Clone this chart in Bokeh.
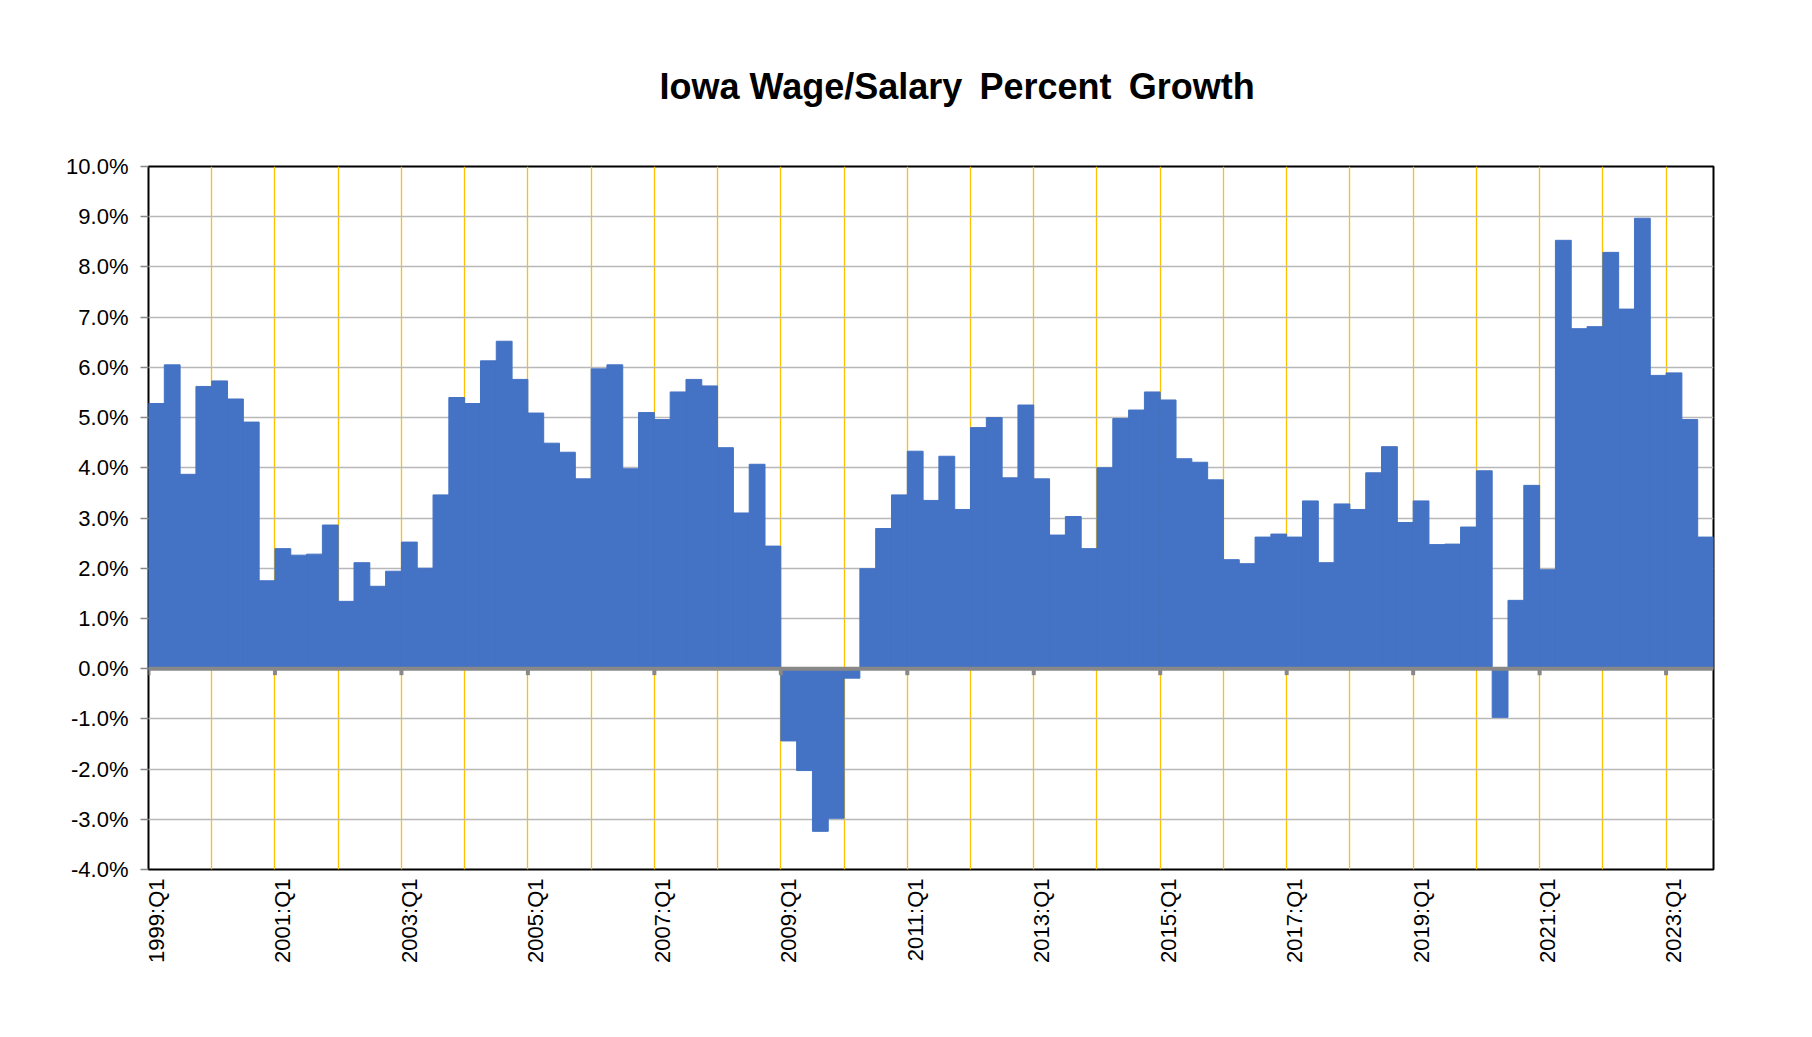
import math
from bokeh.plotting import figure
from bokeh.models import FixedTicker, Span
from bokeh.embed import file_html
from bokeh.resources import INLINE

# ---- data ----
years = list(range(1999, 2024))
quarters = [f"{y}:Q{q}" for y in years for q in range(1, 5)][:99]

growth = [
    5.28, 6.05, 3.87, 5.62,   # 1999
    5.73, 5.37, 4.91, 1.75,   # 2000
    2.39, 2.26, 2.28, 2.86,   # 2001
    1.34, 2.11, 1.64, 1.94,   # 2002
    2.52, 2.00, 3.46, 5.40,   # 2003
    5.28, 6.13, 6.52, 5.76,   # 2004
    5.09, 4.49, 4.31, 3.78,   # 2005
    5.97, 6.05, 3.98, 5.10,   # 2006
    4.96, 5.51, 5.76, 5.63,   # 2007
    4.40, 3.10, 4.07, 2.44,   # 2008
    -1.44, -2.03, -3.24, -2.98,  # 2009
    -0.19, 1.99, 2.79, 3.46,  # 2010
    4.33, 3.35, 4.23, 3.17,   # 2011
    4.80, 5.00, 3.80, 5.25,   # 2012
    3.78, 2.66, 3.03, 2.39,   # 2013
    4.00, 4.98, 5.15, 5.51,   # 2014
    5.35, 4.18, 4.11, 3.76,   # 2015
    2.17, 2.09, 2.62, 2.68,   # 2016
    2.62, 3.34, 2.11, 3.28,   # 2017
    3.17, 3.90, 4.42, 2.91,   # 2018
    3.34, 2.47, 2.48, 2.82,   # 2019
    3.94, -0.97, 1.36, 3.65,  # 2020
    1.97, 8.53, 6.77, 6.81,   # 2021
    8.29, 7.16, 8.97, 5.84,   # 2022
    5.89, 4.96, 2.62,         # 2023
]

y_ticks = list(range(-4, 11))
label_every = 8      # category labels every 2 years
year_every = 4       # yellow gridline every year

n = len(growth)
x_centers = [i + 0.5 for i in range(n)]
label_idx = list(range(0, n, label_every))

FONT = "Liberation Sans"
W, H = 1796, 1021

p = figure(
    frame_width=1565, frame_height=703,
    min_border_left=148, min_border_right=W - 148 - 1565,
    min_border_top=166, min_border_bottom=H - 166 - 703,
    x_range=(0, n), y_range=(y_ticks[0], y_ticks[-1]),
    output_backend="svg", toolbar_location=None,
    background_fill_color="white", border_fill_color="white",
)

p.title.text = "Iowa Wage/Salary \u2009Percent \u2009Growth"
p.title.text_font = FONT
p.title.text_font_size = "36px"
p.title.text_font_style = "bold"
p.title.text_color = "black"
p.title.align = "left"
p.title.offset = 511
p.title.standoff = 120

p.outline_line_color = "black"
p.outline_line_width = 2

# horizontal gridlines
p.ygrid.ticker = FixedTicker(ticks=y_ticks)
p.ygrid.grid_line_color = "#B8B8B8"
p.ygrid.grid_line_width = 1.5

# yellow vertical gridlines at year boundaries
p.xgrid.ticker = FixedTicker(ticks=list(range(year_every, n, year_every)))
p.xgrid.grid_line_color = "#FFC000"
p.xgrid.grid_line_width = 1.3

# bars
p.vbar(x=x_centers, top=growth, bottom=0, width=1.0,
       fill_color="#4472C4", line_color="#4472C4", line_width=1.0)

# zero axis line
p.add_layout(Span(location=0, dimension="width", line_color="#888888", line_width=4))
tick_x = list(range(0, n, label_every))
p.segment(x0=tick_x, x1=tick_x, y0=[0] * len(tick_x), y1=[-0.13] * len(tick_x),
          line_color="#888888", line_width=4)

# y axis
p.yaxis.ticker = FixedTicker(ticks=y_ticks)
p.yaxis.major_label_overrides = {t: f"{t:.1f}%" for t in y_ticks}
p.yaxis.major_label_text_font = FONT
p.yaxis.major_label_text_font_size = "22px"
p.yaxis.major_label_text_color = "black"
p.yaxis.axis_line_color = None
p.yaxis.major_tick_line_color = "#888888"
p.yaxis.major_tick_line_width = 1.5
p.yaxis.major_tick_out = 8
p.yaxis.major_tick_in = 0
p.yaxis.minor_tick_line_color = None
p.yaxis.major_label_standoff = 12

# x axis
p.xaxis.ticker = FixedTicker(ticks=[x_centers[i] for i in label_idx])
p.xaxis.major_label_overrides = {x_centers[i]: quarters[i] for i in label_idx}
p.xaxis.major_label_orientation = math.pi / 2
p.xaxis.major_label_text_font = FONT
p.xaxis.major_label_text_font_size = "22px"
p.xaxis.major_label_text_color = "black"
p.xaxis.axis_line_color = None
p.xaxis.major_tick_line_color = None
p.xaxis.minor_tick_line_color = None
p.xaxis.major_label_standoff = 3

open("out.html", "w").write(file_html(p, INLINE))
